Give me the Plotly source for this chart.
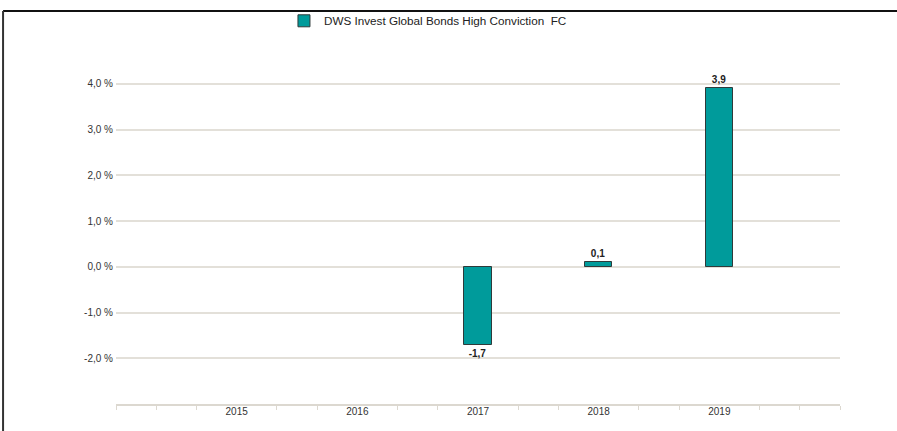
import plotly.graph_objects as go

years = ["2015", "2016", "2017", "2018", "2019"]
values = [None, None, -1.7, 0.1, 3.9]
value_labels = ["", "", "-1,7", "0,1", "3,9"]
series_name = "DWS Invest Global Bonds High Conviction  FC"
y_ticks = [-2, -1, 0, 1, 2, 3, 4, 5]
y_tick_labels = ["-2,0 %", "-1,0 %", "0,0 %", "1,0 %", "2,0 %", "3,0 %", "4,0 %", ""]

xpos = list(range(len(years)))
minor_vals = [k / 3 - 1 for k in range(19) if not (k % 3 == 0 and 0 <= k // 3 - 1 <= 4)]

FONT = "Liberation Sans, Arial, sans-serif"
grid_col = "#e3e0d9"

fig = go.Figure()
fig.add_trace(go.Bar(
    x=xpos, y=values, name=series_name, width=0.225,
    marker=dict(color="#009b9b", line=dict(color="#2f3a3a", width=1)),
    text=[f"<b>{t}</b>" if t else "" for t in value_labels],
    textposition="outside", cliponaxis=False,
    textfont=dict(family=FONT, size=10, color="#222222"),
))

fig.update_layout(
    width=897, height=431,
    margin=dict(l=116, r=57, t=38, b=27, autoexpand=False),
    paper_bgcolor="white", plot_bgcolor="white",
    font=dict(family=FONT, size=10, color="#333333"),
    showlegend=True,
    legend=dict(orientation="h", x=0.232, xanchor="left", y=1.047, yanchor="middle",
                font=dict(family=FONT, size=11.7, color="#222222"),
                bgcolor="rgba(0,0,0,0)"),
    bargap=0,
    xaxis=dict(type="linear", range=[-1, 5], tickmode="array", tickvals=xpos, ticktext=years,
               ticks="", showgrid=False, zeroline=False, automargin=False,
               showline=True, linecolor="#dcd8d0", linewidth=2, ticklabelstandoff=-3,
               tickfont=dict(family=FONT, size=10, color="#333333"),
               minor=dict(tickmode="array", tickvals=minor_vals, ticks="outside",
                          ticklen=4, tickcolor="#dcd8d0", tickwidth=1, showgrid=False)),
    yaxis=dict(range=[-3, 5], tickmode="array", tickvals=y_ticks, ticktext=y_tick_labels,
               showgrid=True, gridcolor=grid_col, gridwidth=1.5, zeroline=False,
               showline=False, ticks="", ticklen=4, automargin=False, ticklabelstandoff=2,
               tickfont=dict(family=FONT, size=10, color="#333333")),
    shapes=[
        dict(type="line", xref="paper", yref="paper", x0=-0.156, x1=1.08, y0=1.0738, y1=1.0738,
             line=dict(color="#111111", width=2)),
        dict(type="line", xref="paper", yref="paper", x0=-0.156, x1=-0.156, y0=1.0738, y1=-0.08,
             line=dict(color="#333333", width=2)),
    ],
)

fig.write_html("out.html", config={"displayModeBar": False},
               post_script="document.body.style.margin='0px';")
